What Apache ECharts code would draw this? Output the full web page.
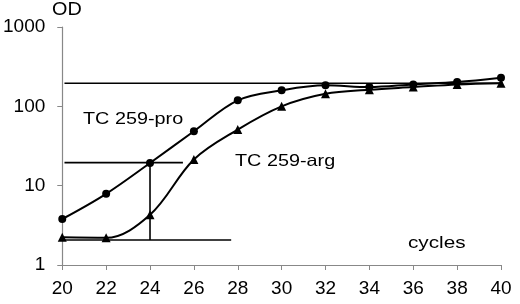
<!DOCTYPE html>
<html><head><meta charset="utf-8">
<script src="https://cdn.jsdelivr.net/npm/echarts@6/dist/echarts.min.js"></script>
<style>html,body{margin:0;padding:0;background:#fff}#c{width:520px;height:304px}</style>
</head><body><div id="c"></div>
<script>
var cycles = [20,22,24,26,28,30,32,34,36,38,40];
var proValues = [3.8,7.9,19.3,48.5,119,159,184,175,189,202,229];
var argValues = [2.23,2.2,4.3,21.4,51,100,144,162,175,189,196];
var xTicks = [20,22,24,26,28,30,32,34,36,38,40];
var yTicks = [1,10,100,1000];
// reference lines [x, y]
var thresholdLine = [[20.1,195],[40.8,195]];
var ctLine = [[20.1,19.5],[25.5,19.5]];
var ctDrop = [[24,19.5],[24,2.07]];
var baseLine = [[20.1,2.07],[27.7,2.07]];

var FONT = 'Liberation Sans, Arial, sans-serif';
function pts(v){ return cycles.map(function(c,i){return [c,v[i]];}); }
function refSeries(d){
  return {type:'line', data:d, symbol:'none', clip:false, silent:true,
    lineStyle:{color:'#000', width:1.6}, z:1, animation:false};
}
function label(txt, x, y, size, sx){
  return {type:'text', x:x, y:y, scaleX:sx, scaleY:1,
    style:{text:txt, fontSize:size, fontFamily:FONT, fill:'#000', align:'left', verticalAlign:'middle'}};
}
var chart = echarts.init(document.getElementById('c'), null, {renderer:'canvas'});
chart.setOption({
  animation:false,
  backgroundColor:'#fff',
  grid:{left:61, right:19, top:27, bottom:39},
  xAxis:{type:'value', min:20, max:40, interval:2,
    axisLine:{lineStyle:{color:'#888', width:1.2}},
    axisTick:{inside:false, length:5, lineStyle:{color:'#888'}},
    splitLine:{show:false},
    axisLabel:{color:'#000', fontSize:19, fontFamily:FONT, margin:14,
      formatter:function(v){return xTicks.indexOf(v)>=0?String(v):'';}}},
  yAxis:{type:'log', logBase:10, min:1, max:1000,
    axisLine:{show:true, lineStyle:{color:'#888', width:1.2}},
    axisTick:{show:true, length:5, lineStyle:{color:'#888'}},
    minorTick:{show:false},
    splitLine:{show:false},
    axisLabel:{color:'#000', fontSize:19, fontFamily:FONT, margin:17,
      formatter:function(v){return yTicks.indexOf(Math.round(v))>=0?String(Math.round(v)):'';}}},
  graphic:[
    label('OD', 52, 10, 18, 1.1),
    label('TC 259-pro', 83, 119, 16.5, 1.2),
    label('TC 259-arg', 235, 161, 16.5, 1.2),
    label('cycles', 408, 243, 17, 1.22)
  ],
  series:[
    refSeries(thresholdLine), refSeries(ctLine), refSeries(ctDrop), refSeries(baseLine),
    {type:'line', name:'TC 259-pro', data:pts(proValues), smooth:0.35,
      symbol:'circle', symbolSize:8, showAllSymbol:true,
      itemStyle:{color:'#000'}, lineStyle:{color:'#000', width:2}, z:3},
    {type:'line', name:'TC 259-arg', data:pts(argValues), smooth:0.35,
      symbol:'triangle', symbolSize:9, showAllSymbol:true,
      itemStyle:{color:'#000'}, lineStyle:{color:'#000', width:2}, z:3}
  ]
});
</script></body></html>
